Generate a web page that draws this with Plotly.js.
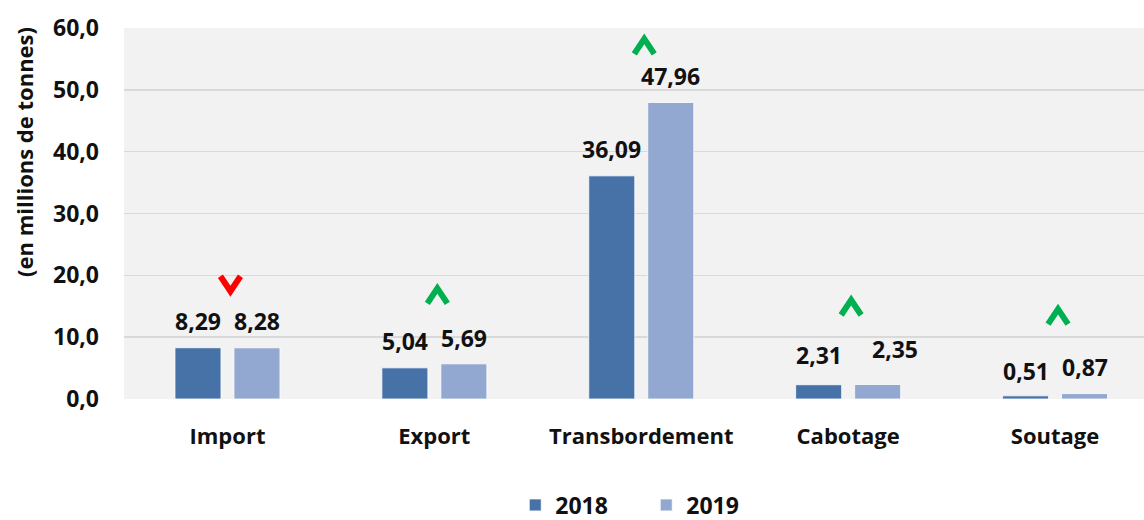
<!DOCTYPE html>
<html>
<head>
<meta charset="utf-8">
<script src="https://cdn.plot.ly/plotly-3.0.1.min.js"></script>
<style>html,body{margin:0;padding:0;background:#fff;}</style>
</head>
<body>
<div id="chart" style="width:1144px;height:520px;"></div>
<script>
// ---- data ----
var categories = ["Import", "Export", "Transbordement", "Cabotage", "Soutage"];
var values2018 = [8.29, 5.04, 36.09, 2.31, 0.51];
var values2019 = [8.28, 5.69, 47.96, 2.35, 0.87];
var seriesNames = ["2018", "2019"];
var yTickValues = [0, 10, 20, 30, 40, 50, 60];

// ---- style / positioning (not data) ----
var colors = ["#4672A8", "#93A8D0"];
var barWidth = 0.2225;
var barOffsets = [-0.2537, 0.0314];
var labelShift2018 = [27, 27, 27, 30, 25];          // px above bar top
var labelShift2019 = [27, 26, 26, 35, 27];
var labelXShift2019 = [0, 0, 0, 17, 0];
var chevronShift = [64, 68, 56, 77, 77];           // px above taller bar top
var FONT = "'Open Sans', 'DejaVu Sans', sans-serif";

var xIdx = categories.map(function (c, i) { return i; });
function fmt(v) { return v.toFixed(2).replace('.', ','); }

var traces = [
  {
    type: 'bar', name: seriesNames[0], x: xIdx, y: values2018,
    width: barWidth, offset: barOffsets[0],
    marker: { color: colors[0], line: { color: '#ffffff', width: 0.8 } },
    hoverinfo: 'skip'
  },
  {
    type: 'bar', name: seriesNames[1], x: xIdx, y: values2019,
    width: barWidth, offset: barOffsets[1],
    marker: { color: colors[1], line: { color: '#ffffff', width: 0.8 } },
    hoverinfo: 'skip'
  }
];

var annotations = [];
xIdx.forEach(function (i) {
  annotations.push({
    x: i + barOffsets[0] + barWidth / 2, y: values2018[i], xref: 'x', yref: 'y',
    text: fmt(values2018[i]), showarrow: false, yanchor: 'middle', xanchor: 'center',
    yshift: labelShift2018[i],
    font: { family: FONT, size: 23, weight: 'bold', color: '#111111' }
  });
  annotations.push({
    x: i + barOffsets[1] + barWidth / 2, y: values2019[i], xref: 'x', yref: 'y',
    text: fmt(values2019[i]), showarrow: false, yanchor: 'middle', xanchor: 'center',
    yshift: labelShift2019[i], xshift: labelXShift2019[i],
    font: { family: FONT, size: 23, weight: 'bold', color: '#111111' }
  });
});

// y axis title
annotations.push({
  xref: 'paper', yref: 'paper', x: -0.098, y: 0.666, xanchor: 'center', yanchor: 'middle',
  text: '(en millions de tonnes)', textangle: -90, showarrow: false,
  font: { family: FONT, size: 22, weight: 'bold', color: '#111111' }
});

// chevrons showing direction of change
var shapes = xIdx.map(function (i) {
  var up = values2019[i] >= values2018[i];
  var top = Math.max(values2018[i], values2019[i]);
  var d = chevronShift[i];
  var h = 7.5, w = 10, dx = 3;
  var path = up
    ? 'M' + (dx - w) + ',' + (d - h) + ' L' + dx + ',' + (d + h) + ' L' + (dx + w) + ',' + (d - h)
    : 'M' + (dx - w) + ',' + (d + h) + ' L' + dx + ',' + (d - h) + ' L' + (dx + w) + ',' + (d + h);
  return {
    type: 'path', xref: 'x', yref: 'y', xsizemode: 'pixel', ysizemode: 'pixel',
    xanchor: i, yanchor: top, path: path,
    line: { color: up ? '#00B050' : '#FF0000', width: 6 }
  };
});

var layout = {
  width: 1144, height: 520,
  margin: { l: 124, r: 0, t: 28, b: 121, pad: 0, autoexpand: false },
  paper_bgcolor: '#ffffff', plot_bgcolor: '#F2F2F2',
  barmode: 'overlay',
  separators: ', ',
  showlegend: true,
  legend: {
    orientation: 'h', x: 0.512, xanchor: 'center', y: -0.2857, yanchor: 'middle',
    font: { family: FONT, size: 23, weight: 'bold', color: '#111111' },
    traceorder: 'normal', itemwidth: 30, entrywidth: 86, bgcolor: 'rgba(0,0,0,0)'
  },
  xaxis: {
    range: [-0.5, 4.43], tickvals: xIdx, ticktext: categories,
    showgrid: false, zeroline: false, showline: false, ticks: '',
    ticklabelstandoff: 22,
    tickfont: { family: FONT, size: 22, weight: 'bold', color: '#111111' },
    fixedrange: true
  },
  yaxis: {
    range: [0, 60], tickvals: yTickValues, tickformat: '.1f',
    showgrid: true, gridcolor: '#D9D9D9', gridwidth: 1.5,
    zeroline: false, showline: false, ticks: '',
    ticklabelstandoff: 24,
    tickfont: { family: FONT, size: 23, weight: 'bold', color: '#111111' },
    fixedrange: true
  },
  annotations: annotations,
  shapes: shapes
};

Plotly.newPlot('chart', traces, layout, { displayModeBar: false, staticPlot: true });
</script>
</body>
</html>
